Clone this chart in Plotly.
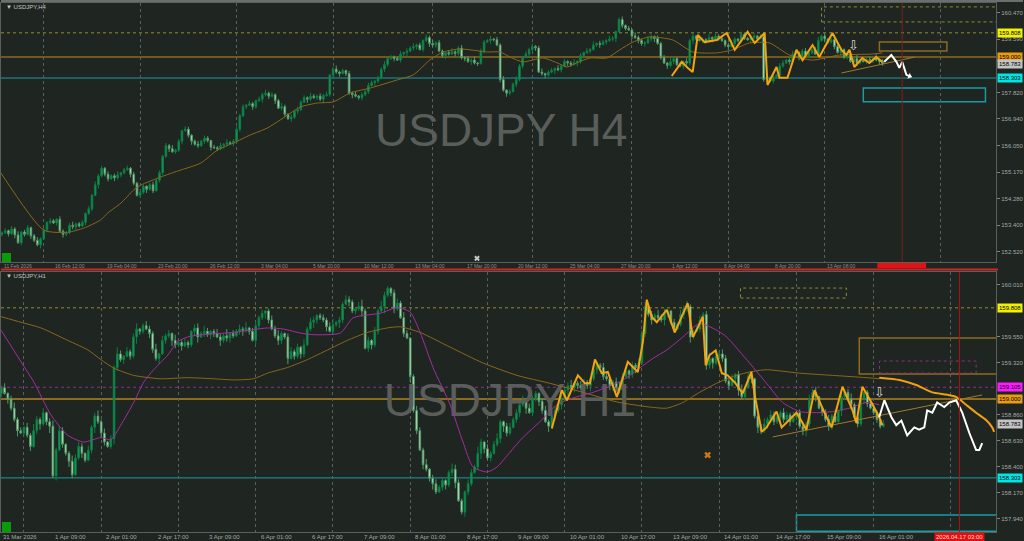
import plotly.graph_objects as go

# ===================== H4 (top) data =====================
h4_first_open = 153.10
h4_close = [
    153.15, 153.22, 153.12, 153.28, 153.08, 152.82, 153.18, 153.10, 153.32,
    153.05, 152.90, 152.75, 152.95, 153.25, 153.50, 153.55, 153.48, 153.60, 153.20,
    153.10, 153.15, 153.40, 153.35, 153.45, 153.38, 153.50, 153.80, 153.95, 154.40,
    154.75, 155.05, 155.30, 155.10, 154.95, 155.05, 154.98, 155.08, 155.15, 155.25,
    155.30, 155.10, 154.80, 154.40, 154.50, 154.70, 154.60, 154.75, 154.55, 154.90,
    155.15, 155.70, 156.05, 155.95, 155.85, 155.90, 156.20, 156.55, 156.60, 156.40,
    156.20, 156.10, 156.05, 156.20, 156.30, 156.22, 156.00, 155.98, 155.95, 156.05,
    156.10, 156.15, 156.12, 156.20, 156.60, 157.05, 157.35, 157.40, 157.45, 157.35,
    157.55, 157.60, 157.75, 157.80, 157.70, 157.75, 157.55, 157.30, 157.35, 157.10,
    156.95, 157.00, 157.20, 157.25, 157.50, 157.65, 157.60, 157.70, 157.65, 157.70,
    157.60, 157.72, 157.75, 158.40, 158.60, 158.50, 158.45, 158.55, 158.45, 157.80,
    157.75, 157.70, 157.65, 157.75, 157.85, 158.05, 158.15, 158.20, 158.30, 158.60,
    158.75, 158.95, 159.00, 158.95, 158.90, 159.10, 159.15, 159.20, 159.30, 159.35,
    159.40, 159.25, 159.55, 159.65, 159.45, 159.40, 159.48, 159.20, 159.05, 159.15,
    159.10, 159.18, 159.12, 159.30, 158.98, 158.95, 158.85, 158.90, 158.80, 158.78,
    159.20, 159.50, 159.55, 159.60, 159.58, 159.40, 158.25, 157.90, 157.80, 157.85,
    158.10, 158.25, 158.70, 159.00, 159.10, 159.25, 159.35, 159.30, 158.50, 158.45,
    158.40, 158.50, 158.55, 158.62, 158.58, 158.70, 158.85, 158.80, 158.75, 158.82,
    158.85, 159.05, 159.15, 159.20, 159.25, 159.40, 159.45, 159.42, 159.50, 159.55,
    159.60, 159.62, 159.85, 160.25, 160.05, 159.95, 159.90, 159.70, 159.65, 159.55,
    159.45, 159.48, 159.60, 159.68, 159.62, 159.45, 158.98, 158.80, 158.72, 158.85,
    158.95, 158.75, 158.70, 158.85, 158.80, 159.55, 159.70, 159.60, 159.55, 159.58,
    159.52, 159.65, 159.60, 159.70, 159.62, 159.55, 159.40, 159.35, 159.45, 159.60,
    159.55, 159.75, 159.62, 159.58, 159.65, 159.70, 159.62, 159.68, 158.25, 158.30,
    158.20, 158.35, 158.40, 158.70, 158.80, 158.90, 158.85, 159.10, 159.15, 158.98,
    159.20, 159.05, 159.15, 159.25, 159.10, 159.55, 159.70, 159.60, 159.50, 159.58,
    159.35, 159.15, 159.25, 159.00, 159.10, 158.85, 158.95, 158.80, 158.90, 158.85,
    158.92, 158.88, 158.98, 158.90, 158.85, 158.78,
]
# wick lengths in 0.01 yen
h4_up = [
    5, 8, 4, 10, 6, 12, 3, 7, 9, 4, 6, 11, 5, 8, 3, 9, 6, 4, 10, 7, 5, 8, 12, 4, 6,
    7, 3, 9, 5, 11, 6, 8, 4, 10, 5, 7, 12, 3, 6, 9, 4, 8, 5, 11, 6, 3, 7, 10, 5, 8,
    4, 9, 6, 12, 5, 7, 3, 10, 8, 4, 6, 11, 5, 9, 7, 3, 8, 6, 10, 4, 12, 5, 7, 9, 6,
    8, 4, 10, 6, 3, 9, 7, 11, 5, 8, 4, 6, 12, 7, 3, 9, 5, 10, 6, 8, 4, 11, 7, 5, 9,
    6, 10, 4, 8, 12, 5, 7, 3, 9, 6, 11, 4, 8, 5, 10, 7, 3, 9, 6, 12, 4, 8, 5, 7, 10,
    3, 9, 6, 11, 5, 8, 4, 10, 7, 12, 5, 9, 6, 3, 8, 11, 4, 7, 10, 5, 9, 6, 12, 4, 8,
    7, 5, 10, 4, 9, 6, 12, 3, 8, 5, 11, 7, 4, 9, 6, 10, 5, 8, 12, 3, 7, 9, 4, 11, 6,
    9, 4, 7, 11, 5, 8, 3, 10, 6, 12, 4, 9, 7, 5, 11, 8, 3, 6, 10, 4, 9, 5, 12, 7, 6,
    5, 11, 8, 4, 10, 6, 9, 3, 12, 7, 5, 8, 4, 11, 6, 10, 3, 9, 7, 5, 12, 4, 8, 6, 10,
    4, 8, 12, 6, 3, 10, 7, 5, 9, 11, 4, 8, 6, 12, 5, 7, 3, 10, 9, 4, 6, 11, 8, 5, 7,
    10, 6, 4, 9, 12, 5, 8, 3, 7, 11, 6, 9, 4, 10, 5, 8, 12, 3, 7, 6, 9, 5, 11, 4, 8,
]
h4_dn = [
    6, 4, 9, 5, 11, 3, 8, 7, 4, 10, 6, 5, 12, 4, 8, 7, 3, 9, 5, 11, 6, 4, 8, 10, 5,
    4, 10, 6, 8, 3, 12, 5, 7, 9, 4, 11, 6, 8, 5, 3, 10, 7, 4, 9, 6, 12, 5, 8, 3, 7,
    9, 5, 11, 4, 7, 6, 10, 3, 8, 12, 5, 7, 4, 9, 6, 11, 3, 8, 5, 10, 7, 4, 9, 6, 8,
    5, 8, 3, 10, 7, 4, 12, 6, 9, 5, 11, 3, 7, 8, 4, 10, 6, 9, 5, 3, 12, 7, 4, 8, 6,
    11, 4, 7, 9, 5, 10, 3, 8, 6, 12, 4, 7, 9, 5, 8, 3, 11, 6, 4, 10, 7, 5, 9, 3, 8,
    6, 12, 4, 8, 10, 3, 7, 5, 11, 6, 9, 4, 8, 12, 5, 3, 10, 7, 6, 9, 4, 11, 5, 8, 3,
    8, 3, 11, 6, 4, 9, 5, 12, 7, 3, 10, 6, 8, 4, 11, 5, 9, 3, 7, 10, 6, 4, 12, 5, 9,
    4, 9, 6, 3, 12, 7, 10, 5, 8, 4, 6, 11, 3, 9, 5, 7, 12, 4, 8, 6, 3, 10, 5, 9, 7,
    10, 5, 8, 12, 4, 6, 3, 11, 7, 9, 5, 4, 10, 6, 8, 12, 5, 3, 9, 7, 4, 11, 6, 8, 5,
    7, 11, 3, 9, 6, 8, 5, 4, 12, 6, 10, 3, 7, 9, 4, 8, 5, 11, 6, 3, 10, 7, 4, 9, 12,
    5, 8, 6, 3, 10, 4, 11, 7, 5, 9, 3, 12, 6, 8, 4, 7, 10, 5, 3, 9, 6, 8, 4, 11, 7,
]
h4_ma_x = [-0.3, 13, 20.5, 25.5, 30.7, 32.9, 37, 41, 43.2, 49.4, 55.6, 61.8, 67.1, 72,
           77.3, 82.6, 86.6, 92.9, 98.1, 103.1, 108.4, 114.6, 123, 128, 133.2, 137.3,
           142.5, 151, 155, 158.1, 162.1, 168.3, 172.7, 175.8, 178.9, 182.9, 188.2,
           192.2, 196.3, 201.6, 208.7, 214.9, 222.4, 227.3, 232.6, 238.8, 245, 252.2,
           260.6, 270.8, 273.9]
h4_ma_y = [155.14, 153.24, 153.17, 153.31, 153.58, 153.81, 154.14, 154.58, 154.74,
           155.01, 155.24, 155.47, 155.91, 156.14, 156.41, 156.64, 156.91, 157.34,
           157.47, 157.51, 157.81, 157.97, 158.24, 158.41, 158.91, 159.17, 159.27,
           159.17, 159.17, 159.00, 158.84, 158.97, 158.81, 158.67, 158.81, 158.97,
           158.97, 159.24, 159.50, 159.67, 159.57, 159.17, 159.14, 159.24, 159.47,
           159.47, 159.07, 158.90, 159.07, 159.10, 159.14]
h4_zz_x = [208.4, 211.5, 213.4, 214.9, 216.5, 218.6, 222.4, 225.5, 228, 232, 234.2,
           237.3, 238.2, 241, 241.9, 244.4, 247.2, 249.1, 252.2, 254.3, 258.4, 261.2,
           262.7, 263.7, 265.2, 267.7, 269.9, 272, 273.9]
h4_zz_y = [158.37, 158.84, 158.64, 158.50, 159.74, 159.50, 159.57, 159.80, 159.24,
           159.84, 159.47, 159.80, 158.07, 158.67, 158.31, 158.31, 159.24, 158.90,
           159.40, 159.00, 159.80, 159.24, 159.07, 159.24, 158.67, 158.97, 158.80,
           159.00, 158.84]
h4_proj_x = [274.5, 276.7, 278.3, 279.2, 280.1, 281.4, 283.0]
h4_proj_y = [158.84, 159.07, 158.84, 158.64, 158.84, 158.41, 158.34]
h4_trend_x = [261.2, 284.0]
h4_trend_y = [158.47, 159.00]
h4_grid = [13, 43, 73, 103, 134, 165, 196, 226, 256, 292]
h4_ytick_vals = [152.52, 153.40, 154.28, 155.17, 156.05, 156.94, 157.82, 159.59, 160.47]
h4_ytick_text = ["152.520", "153.400", "154.280", "155.170", "156.050", "156.940",
                 "157.820", "159.590", "160.470"]
h4_xlab_idx = [0, 16, 32, 48, 64, 80, 96, 112, 128, 144, 160, 176, 192, 208, 224, 240, 256]
h4_xlab_text = ["11 Feb 2026", "16 Feb 12:00", "19 Feb 04:00", "23 Feb 20:00",
                "26 Feb 12:00", "3 Mar 04:00", "5 Mar 20:00", "10 Mar 12:00",
                "13 Mar 04:00", "17 Mar 20:00", "20 Mar 12:00", "25 Mar 04:00",
                "27 Mar 20:00", "1 Apr 12:00", "6 Apr 04:00", "8 Apr 20:00", "13 Apr 08:00"]
h4_vline = 280.1
# zones: (x0, x1, y0, y1)
h4_zone_yellow = (255, 309.5, 160.17, 160.67)
h4_zone_orange = (273, 294, 159.20, 159.50)
h4_zone_cyan = (268, 306, 157.51, 157.97)

# ===================== H1 (bottom) data =====================
h1_first_open = 159.05
h1_close = [
    159.10, 159.05, 159.00, 158.92, 158.82, 158.72, 158.70, 158.75, 158.68, 158.58,
    158.72, 158.82, 158.78, 158.88, 158.80, 158.76, 158.32, 158.55, 158.72, 158.60,
    158.52, 158.45, 158.33, 158.48, 158.58, 158.52, 158.46, 158.55, 158.75, 158.85,
    158.80, 158.70, 158.62, 158.58, 158.65, 159.28, 159.40, 159.35, 159.38, 159.42,
    159.38, 159.55, 159.62, 159.60, 159.65, 159.62, 159.58, 159.44, 159.36, 159.40,
    159.52, 159.56, 159.58, 159.52, 159.48, 159.50, 159.47, 159.50, 159.48, 159.60,
    159.63, 159.55, 159.58, 159.60, 159.57, 159.60, 159.58, 159.55, 159.52, 159.56,
    159.54, 159.58, 159.56, 159.60, 159.62, 159.61, 159.63, 159.60, 159.52, 159.65,
    159.72, 159.76, 159.78, 159.70, 159.62, 159.56, 159.52, 159.58, 159.55, 159.36,
    159.42, 159.38, 159.46, 159.40, 159.48, 159.62, 159.68, 159.70, 159.74, 159.72,
    159.70, 159.64, 159.60, 159.66, 159.68, 159.70, 159.84, 159.88, 159.86, 159.78,
    159.80, 159.82, 159.78, 159.45, 159.52, 159.48, 159.60, 159.78, 159.82, 159.92,
    159.98, 159.94, 159.80, 159.85, 159.72, 159.58, 159.54, 159.20, 158.90, 158.72,
    158.55, 158.42, 158.38, 158.30, 158.25, 158.18, 158.22, 158.28, 158.24, 158.35,
    158.38, 158.26, 158.10, 158.00, 158.18, 158.25, 158.35, 158.40, 158.52, 158.62,
    158.56, 158.48, 158.52, 158.60, 158.65, 158.80, 158.76, 158.70, 158.75, 158.82,
    158.88, 158.95, 158.98, 158.92, 158.88, 159.00, 159.05, 158.98, 158.90, 158.80,
    158.76, 158.85, 158.90, 158.95, 159.00, 159.08, 159.12, 159.10, 159.14, 159.12,
    159.10, 159.15, 159.12, 159.18, 159.26, 159.30, 159.28, 159.20, 159.18, 159.12,
    159.15, 159.10, 159.08, 159.20, 159.25, 159.22, 159.30, 159.28, 159.32, 159.58,
    159.82, 159.75, 159.70, 159.74, 159.72, 159.70, 159.76, 159.78, 159.68, 159.62,
    159.66, 159.75, 159.80, 159.82, 159.55, 159.60, 159.62, 159.70, 159.75, 159.30,
    159.36, 159.32, 159.38, 159.40, 159.36, 159.16, 159.12, 159.18, 159.22, 159.08,
    159.02, 159.10, 159.20, 159.18, 158.85, 158.75, 158.72, 158.78, 158.82, 158.86,
    158.80, 158.84, 158.88, 158.82, 158.86, 158.80, 158.84, 158.88, 158.76, 158.72,
    158.78, 159.00, 159.06, 159.02, 158.92, 158.88, 158.82, 158.76, 158.85, 158.80,
    158.90, 159.02, 159.06, 159.00, 158.95, 158.84, 158.78, 159.00, 159.06, 158.96,
    158.92, 158.88, 158.82, 158.76, 158.783,
]
h1_up = [
    2, 4, 1, 3, 5, 2, 3, 1, 4, 2, 6, 3, 2, 4, 1, 3, 5, 2, 4, 3, 1, 2, 5, 3, 4,
    3, 1, 4, 2, 3, 5, 2, 4, 1, 3, 2, 6, 3, 1, 4, 2, 3, 5, 1, 2, 4, 3, 2, 5, 1,
    4, 2, 3, 1, 5, 3, 2, 4, 2, 1, 3, 4, 2, 5, 3, 1, 2, 4, 3, 2, 6, 1, 3, 2, 4,
    2, 5, 1, 3, 4, 2, 3, 1, 2, 4, 3, 5, 2, 1, 3, 4, 2, 3, 1, 5, 2, 4, 3, 1, 2,
    3, 2, 4, 5, 1, 3, 2, 4, 3, 2, 1, 4, 6, 2, 3, 1, 4, 2, 5, 3, 2, 1, 3, 4, 2,
    5, 3, 1, 2, 4, 3, 2, 5, 1, 3, 4, 2, 3, 1, 2, 5, 4, 3, 2, 1, 4, 3, 2, 6, 3,
    1, 4, 2, 3, 5, 2, 1, 3, 4, 2, 3, 1, 5, 2, 4, 3, 2, 1, 3, 4, 2, 5, 3, 1, 4,
    2, 3, 5, 1, 2, 4, 3, 2, 1, 5, 3, 2, 4, 3, 1, 2, 4, 5, 3, 2, 1, 3, 2, 4, 3,
    4, 1, 3, 2, 5, 3, 4, 2, 1, 3, 2, 4, 3, 5, 2, 1, 3, 4, 2, 3, 5, 1, 2, 3, 4,
    3, 2, 4, 1, 3, 5, 2, 3, 4, 1, 2, 3, 5, 2, 4, 3, 1, 2, 4, 3, 2, 5, 1, 3, 2,
    2, 4, 3, 5, 1, 2, 3, 4, 2, 3, 1, 4, 2, 3, 5, 2, 4, 1, 3, 2, 4, 3, 2, 1, 3,
]
h1_dn = [
    3, 1, 4, 2, 2, 5, 1, 3, 2, 4, 1, 3, 5, 2, 3, 6, 2, 4, 1, 3, 2, 5, 3, 1, 2,
    4, 2, 1, 3, 5, 2, 4, 3, 1, 2, 5, 3, 2, 4, 1, 3, 2, 6, 3, 2, 1, 4, 3, 2, 5,
    1, 3, 2, 5, 3, 2, 4, 1, 3, 2, 4, 5, 1, 3, 2, 4, 3, 1, 5, 2, 3, 4, 2, 1, 3,
    5, 2, 3, 1, 4, 3, 2, 5, 3, 1, 2, 4, 3, 2, 5, 1, 3, 2, 4, 3, 1, 2, 5, 3, 2,
    2, 4, 1, 3, 2, 5, 3, 1, 4, 2, 3, 2, 5, 1, 3, 4, 2, 3, 1, 6, 2, 3, 4, 2, 1,
    3, 1, 5, 2, 3, 1, 4, 2, 3, 5, 2, 1, 3, 4, 2, 3, 5, 1, 2, 4, 3, 2, 1, 3, 5,
    4, 2, 3, 1, 2, 4, 5, 3, 2, 1, 3, 4, 2, 5, 1, 3, 2, 4, 3, 1, 5, 2, 3, 2, 4,
    1, 5, 2, 4, 3, 2, 1, 3, 5, 2, 4, 1, 3, 2, 4, 5, 2, 3, 1, 2, 4, 3, 5, 2, 1,
    3, 2, 4, 1, 3, 2, 5, 4, 2, 3, 1, 2, 4, 3, 5, 2, 1, 3, 2, 4, 3, 5, 2, 1, 3,
    2, 4, 1, 3, 5, 2, 3, 1, 4, 2, 5, 3, 2, 4, 1, 3, 2, 5, 3, 2, 4, 1, 3, 2, 4,
    5, 3, 2, 4, 1, 3, 2, 4, 3, 1, 2, 5, 3, 2, 4, 1, 3, 2, 4, 3, 1, 2, 3, 2, 1,
]
h1_fast_x = [-0.1, 6.1, 10.1, 15.4, 20.6, 25.6, 30.9, 34, 37.1, 41.1, 44.2, 47.3, 51.7,
             54.8, 57.9, 61.9, 72.1, 82.7, 87.6, 92.9, 96.9, 105.3, 109.3, 117.7, 123,
             127, 130.1, 134.1, 139.4, 143.4, 146.5, 150.9, 154, 158, 162, 167.3, 172.6,
             177.5, 183.8, 189.9, 194.3, 198.3, 202.4, 206.7, 211.7, 216.9, 222.2, 225.3,
             232.4, 237.7, 242.7, 248, 253.2, 258.2, 263.4, 268.7, 272.7]
h1_fast_y = [159.61, 159.33, 159.15, 158.86, 158.68, 158.62, 158.66, 158.64, 158.77,
             158.97, 159.15, 159.26, 159.39, 159.51, 159.55, 159.57, 159.59, 159.63,
             159.62, 159.585, 159.57, 159.585, 159.72, 159.76, 159.81, 159.77, 159.59,
             159.28, 158.95, 158.62, 158.40, 158.355, 158.40, 158.53, 158.66, 158.80,
             158.95, 159.01, 159.06, 159.125, 159.19, 159.275, 159.36, 159.435, 159.55,
             159.67, 159.61, 159.55, 159.32, 159.14, 158.97, 158.89, 158.88, 158.89,
             158.92, 158.97, 158.95]
h1_slow_x = [-0.1, 6.1, 12.3, 20.6, 26.9, 30.9, 34.9, 41.1, 49.5, 57.9, 65.9, 72.1, 78.3,
             82.7, 88.9, 95.1, 101.3, 107.5, 113.7, 119.9, 123.9, 130.1, 139.4, 149.6,
             160.2, 170.4, 180.7, 191.2, 201.4, 206.7, 211.7, 216.9, 222.2, 227.2, 232.4,
             237.7, 247.9, 258.2, 268.7, 272.7]
h1_slow_y = [159.73, 159.68, 159.63, 159.52, 159.435, 159.35, 159.275, 159.21, 159.18,
             159.19, 159.18, 159.17, 159.18, 159.23, 159.28, 159.35, 159.435, 159.52,
             159.59, 159.63, 159.64, 159.59, 159.46, 159.32, 159.21, 159.14, 159.06,
             158.975, 158.93, 158.92, 158.97, 159.06, 159.14, 159.20, 159.24, 159.26,
             159.23, 159.21, 159.19, 159.18]
h1_slowproj_x = [272.7, 279, 284.2, 289.2, 293.5, 296.6, 299.7, 302.8, 305.9, 307.8, 308.4]
h1_slowproj_y = [159.19, 159.17, 159.125, 159.06, 159.04, 159.02, 158.95, 158.88,
                 158.815, 158.75, 158.71]
h1_zz_x = [171, 174.1, 175.7, 179.1, 181.3, 182.8, 184.4, 186.5, 188.4, 191.2, 194.6,
           197.7, 199.3, 200.5, 202, 203.6, 206.7, 209.2, 213.2, 214.8, 216.3, 217.9,
           218.8, 220, 221.9, 223.8, 225.6, 227.8, 230.3, 233, 234, 236.2, 237.7, 240.8,
           242.4, 247, 250.1, 252.6, 255.7, 257.9, 261.3, 264.4, 265.6, 267.5, 270.3,
           272.7, 273.7]
h1_zz_y = [158.74, 159.08, 158.99, 159.21, 159.14, 159.14, 159.35, 159.23, 159.24,
           159.02, 159.33, 159.24, 159.51, 159.88, 159.73, 159.68, 159.79, 159.59,
           159.85, 159.55, 159.63, 159.73, 159.30, 159.39, 159.43, 159.23, 159.21,
           159.15, 159.05, 159.24, 159.04, 158.71, 158.75, 158.89, 158.75, 158.88,
           158.73, 159.08, 158.88, 158.75, 159.11, 158.90, 158.79, 159.11, 158.97,
           158.84, 158.77]
h1_proj_x = [272.7, 274.3, 276.5, 278, 279.6, 281.4, 283.6, 285.1, 286.7, 287.6, 289.2,
             290.7, 292.9, 294.5, 296.6, 298.5, 300.7, 302.8, 303.8, 304.7]
h1_proj_y = [158.84, 158.99, 158.84, 158.77, 158.81, 158.68, 158.75, 158.73, 158.75,
             158.90, 158.88, 158.97, 158.93, 158.97, 158.99, 158.88, 158.70, 158.55,
             158.55, 158.61]
h1_trend_x = [239.6, 304.7]
h1_trend_y = [158.665, 159.037]
h1_grid = [7, 31, 55, 79, 103, 127, 151, 175, 199, 223, 247, 271, 295]
h1_ytick_vals = [157.94, 158.17, 158.40, 158.63, 158.86, 159.32, 159.55, 160.01]
h1_ytick_text = ["157.940", "158.170", "158.400", "158.630", "158.860", "159.320",
                 "159.550", "160.010"]
h1_xlab_idx = [0, 16, 32, 48, 64, 80, 96, 112, 128, 144, 160, 176, 192, 208, 224, 240,
               256, 272]
h1_xlab_text = ["31 Mar 2026", "1 Apr 09:00", "2 Apr 01:00", "2 Apr 17:00",
                "3 Apr 09:00", "6 Apr 01:00", "6 Apr 17:00", "7 Apr 09:00",
                "8 Apr 01:00", "8 Apr 17:00", "9 Apr 09:00", "10 Apr 01:00",
                "10 Apr 17:00", "13 Apr 09:00", "14 Apr 01:00", "14 Apr 17:00",
                "15 Apr 09:00", "16 Apr 01:00"]
h1_vline = 297.6
h1_vline_text = "2026.04.17 03:00"
h1_zone_yellow = (229.6, 262.5, 159.895, 159.983)
h1_zone_brown = (266.5, 309.5, 159.222, 159.541)
h1_zone_magenta = (272.8, 302.8, 159.231, 159.337)
h1_zone_cyan = (247, 310, 157.83, 157.975)

# price levels
lvl_yellow = 159.808
lvl_orange = 159.000
lvl_magenta = 159.105
lvl_cyan = 158.303
lvl_bid = 158.783

# ===================== styling =====================
BG = "#1f2521"
FONT = "Liberation Sans"
C_YEL = "#8f8f2c"
C_ORG = "#8d6b1f"
C_CYAN = "#1b9ca2"
C_MAG = "#8e2c8e"
C_MA = "#8a681c"
C_ZZ = "#f5a40c"
C_GRID = "#5a615c"
C_TXT = "#a3a7a4"


def build_ohlc(first_open, closes, up, dn):
    opens = [first_open] + closes[:-1]
    highs = [max(o, c) + u / 100 for o, c, u in zip(opens, closes, up)]
    lows = [min(o, c) - d / 100 for o, c, d in zip(opens, closes, dn)]
    return opens, highs, lows


h4_open, h4_high, h4_low = build_ohlc(h4_first_open, h4_close, h4_up, h4_dn)
h1_open, h1_high, h1_low = build_ohlc(h1_first_open, h1_close, h1_up, h1_dn)
h4_idx = list(range(len(h4_close)))
h1_idx = list(range(len(h1_close)))

fig = go.Figure()

# watermarks (drawn first so they sit behind)
fig.add_trace(go.Scatter(x=[155.3], y=[156.41], mode="text", text=["USDJPY H4"],
                         textfont=dict(size=46, color="#5a5e5b", family=FONT),
                         xaxis="x", yaxis="y", hoverinfo="skip", showlegend=False))
fig.add_trace(go.Scatter(x=[158.0], y=[158.95], mode="text", text=["USDJPY H1"],
                         textfont=dict(size=46, color="#5a5e5b", family=FONT),
                         xaxis="x2", yaxis="y2", hoverinfo="skip", showlegend=False))

candle_style = dict(
    increasing=dict(line=dict(color="#0d7d45", width=1), fillcolor="#10a25c"),
    decreasing=dict(line=dict(color="#4f9a68", width=1), fillcolor="#e2f2da"),
    whiskerwidth=0, showlegend=False, hoverinfo="skip",
)

# ---- top H4 ----
fig.add_trace(go.Scatter(x=h4_ma_x, y=h4_ma_y, mode="lines",
                         line=dict(color=C_MA, width=1, shape="spline", smoothing=0.6),
                         xaxis="x", yaxis="y", showlegend=False, hoverinfo="skip"))
fig.add_trace(go.Candlestick(x=h4_idx, open=h4_open, high=h4_high, low=h4_low,
                             close=h4_close, xaxis="x", yaxis="y", **candle_style))
fig.add_trace(go.Scatter(x=h4_trend_x, y=h4_trend_y, mode="lines",
                         line=dict(color="#a07a2a", width=1),
                         xaxis="x", yaxis="y", showlegend=False, hoverinfo="skip"))
fig.add_trace(go.Scatter(x=h4_zz_x, y=h4_zz_y, mode="lines",
                         line=dict(color=C_ZZ, width=2),
                         xaxis="x", yaxis="y", showlegend=False, hoverinfo="skip"))
fig.add_trace(go.Scatter(x=h4_proj_x, y=h4_proj_y, mode="lines",
                         line=dict(color="#ffffff", width=2),
                         xaxis="x", yaxis="y", showlegend=False, hoverinfo="skip"))

# ---- bottom H1 ----
fig.add_trace(go.Scatter(x=h1_slow_x, y=h1_slow_y, mode="lines",
                         line=dict(color=C_MA, width=1, shape="spline", smoothing=0.6),
                         xaxis="x2", yaxis="y2", showlegend=False, hoverinfo="skip"))
fig.add_trace(go.Scatter(x=h1_fast_x, y=h1_fast_y, mode="lines",
                         line=dict(color="#a22ea2", width=1, shape="spline", smoothing=0.6),
                         xaxis="x2", yaxis="y2", showlegend=False, hoverinfo="skip"))
fig.add_trace(go.Candlestick(x=h1_idx, open=h1_open, high=h1_high, low=h1_low,
                             close=h1_close, xaxis="x2", yaxis="y2", **candle_style))
fig.add_trace(go.Scatter(x=h1_trend_x, y=h1_trend_y, mode="lines",
                         line=dict(color="#a07a2a", width=1),
                         xaxis="x2", yaxis="y2", showlegend=False, hoverinfo="skip"))
fig.add_trace(go.Scatter(x=h1_slowproj_x, y=h1_slowproj_y, mode="lines",
                         line=dict(color="#f0a012", width=2, shape="spline", smoothing=0.5),
                         xaxis="x2", yaxis="y2", showlegend=False, hoverinfo="skip"))
fig.add_trace(go.Scatter(x=h1_zz_x, y=h1_zz_y, mode="lines",
                         line=dict(color=C_ZZ, width=2),
                         xaxis="x2", yaxis="y2", showlegend=False, hoverinfo="skip"))
fig.add_trace(go.Scatter(x=h1_proj_x, y=h1_proj_y, mode="lines",
                         line=dict(color="#ffffff", width=2),
                         xaxis="x2", yaxis="y2", showlegend=False, hoverinfo="skip"))
# small markers
fig.add_trace(go.Scatter(x=[219.4], y=[158.505], mode="markers",
                         marker=dict(symbol="x", size=6, color="#c8781e"),
                         xaxis="x2", yaxis="y2", showlegend=False, hoverinfo="skip"))
fig.add_trace(go.Scatter(x=[147.8], y=[152.30], mode="markers",
                         marker=dict(symbol="x", size=5, color="#c8c8c8"),
                         xaxis="x", yaxis="y", showlegend=False, hoverinfo="skip"))

shapes = []
annotations = []


def hline(y, color, width, dash, yref, xref):
    shapes.append(dict(type="line", xref=xref + " domain", yref=yref, x0=0, x1=1,
                       y0=y, y1=y, line=dict(color=color, width=width, dash=dash),
                       layer="below"))


def zone(z, color, width, dash, xref, yref):
    shapes.append(dict(type="rect", xref=xref, yref=yref, x0=z[0], x1=z[1], y0=z[2],
                       y1=z[3], line=dict(color=color, width=width, dash=dash),
                       fillcolor="rgba(0,0,0,0)", layer="below"))


# top levels / zones
hline(lvl_yellow, C_YEL, 1, "dot", "y", "x")
hline(lvl_orange, C_ORG, 1.5, "solid", "y", "x")
hline(lvl_cyan, C_CYAN, 1, "solid", "y", "x")
zone(h4_zone_yellow, C_YEL, 1, "dot", "x", "y")
zone(h4_zone_orange, C_ORG, 1.5, "solid", "x", "y")
zone(h4_zone_cyan, C_CYAN, 1.5, "solid", "x", "y")
shapes.append(dict(type="line", xref="x", yref="y domain", x0=h4_vline, x1=h4_vline,
                   y0=0, y1=1, line=dict(color="#7e1e1e", width=1)))

# bottom levels / zones
hline(lvl_yellow, C_YEL, 1, "dot", "y2", "x2")
hline(lvl_magenta, C_MAG, 1, "dot", "y2", "x2")
hline(lvl_orange, C_ORG, 2, "solid", "y2", "x2")
hline(lvl_cyan, C_CYAN, 1, "solid", "y2", "x2")
zone(h1_zone_yellow, C_YEL, 1, "dot", "x2", "y2")
zone(h1_zone_brown, C_ORG, 1.5, "solid", "x2", "y2")
zone(h1_zone_magenta, C_MAG, 1, "dot", "x2", "y2")
zone(h1_zone_cyan, C_CYAN, 1.5, "solid", "x2", "y2")
shapes.append(dict(type="line", xref="x2", yref="y2 domain", x0=h1_vline, x1=h1_vline,
                   y0=0, y1=1, line=dict(color="#a81818", width=1)))

# frame decorations
shapes.append(dict(type="rect", xref="paper", yref="paper", x0=0, x1=1,
                   y0=1 - 2 / 541, y1=1, line=dict(width=0), fillcolor="#6b706c"))
shapes.append(dict(type="line", xref="paper", yref="paper", x0=0, x1=999 / 1024,
                   y0=1 - 269.5 / 541, y1=1 - 269.5 / 541,
                   line=dict(color="#d42626", width=2)))
shapes.append(dict(type="rect", xref="paper", yref="paper", x0=878 / 1024, x1=927 / 1024,
                   y0=1 - 268 / 541, y1=1 - 263 / 541, line=dict(width=0),
                   fillcolor="#e01414"))
shapes.append(dict(type="rect", xref="paper", yref="paper", x0=1 / 1024, x1=10 / 1024,
                   y0=1 - 262 / 541, y1=1 - 253 / 541, line=dict(width=0),
                   fillcolor="#0c9a0c"))
shapes.append(dict(type="rect", xref="paper", yref="paper", x0=1 / 1024, x1=10 / 1024,
                   y0=1 - 532 / 541, y1=1 - 522 / 541, line=dict(width=0),
                   fillcolor="#0c9a0c"))

# arrows & icons
annotations.append(dict(x=h4_proj_x[-1], y=h4_proj_y[-1], ax=h4_proj_x[-2], ay=h4_proj_y[-2],
                        xref="x", yref="y", axref="x", ayref="y", showarrow=True,
                        arrowhead=1, arrowsize=0.7, arrowwidth=1.5, arrowcolor="#ffffff",
                        text=""))
annotations.append(dict(x=265, y=159.40, xref="x", yref="y", text="⇩", showarrow=False,
                        font=dict(size=13, color="#d8d8d8", family="DejaVu Sans")))
annotations.append(dict(x=272.8, y=159.06, xref="x2", yref="y2", text="⇩", showarrow=False,
                        font=dict(size=13, color="#d8d8d8", family="DejaVu Sans")))

# chart titles
annotations.append(dict(x=3 / 1024, y=1 - 7 / 541, xref="paper", yref="paper",
                        text="▼ USDJPY,H4", showarrow=False, xanchor="left",
                        yanchor="middle", font=dict(size=6, color="#c4c8c5", family=FONT)))
annotations.append(dict(x=3 / 1024, y=1 - 276 / 541, xref="paper", yref="paper",
                        text="▼ USDJPY,H1", showarrow=False, xanchor="left",
                        yanchor="middle", font=dict(size=6, color="#c4c8c5", family=FONT)))

# x labels (MT4 style, left aligned at tick)
for i, t in zip(h4_xlab_idx, h4_xlab_text):
    annotations.append(dict(x=i, y=1 - 265.5 / 541, xref="x", yref="paper", text=t,
                            showarrow=False, xanchor="left", yanchor="middle",
                            font=dict(size=5, color="#8a8e8b", family=FONT)))
for i, t in zip(h1_xlab_idx, h1_xlab_text):
    annotations.append(dict(x=i, y=1 - 537 / 541, xref="x2", yref="paper", text=t,
                            showarrow=False, xanchor="left", yanchor="middle",
                            font=dict(size=6, color=C_TXT, family=FONT)))
annotations.append(dict(x=h1_vline, y=1 - 537 / 541, xref="x2", yref="paper",
                        text=h1_vline_text, showarrow=False, xanchor="center",
                        yanchor="middle", bgcolor="#e01010", borderpad=1,
                        font=dict(size=6, color="#ffd8d8", family=FONT)))


# right-side price labels
def price_label(y, yref, bg, fg="#000000"):
    annotations.append(dict(x=998 / 1024, y=y, xref="paper", yref=yref,
                            text=f"{y:.3f}", showarrow=False, xanchor="left",
                            yanchor="middle", bgcolor=bg, borderpad=1,
                            font=dict(size=6, color=fg, family=FONT)))


price_label(lvl_yellow, "y", "#f2f200")
price_label(lvl_orange, "y", "#eb9b12")
price_label(lvl_bid, "y", "#c4c4c4")
price_label(lvl_cyan, "y", "#00e6e6")
price_label(lvl_yellow, "y2", "#f2f200")
price_label(lvl_magenta, "y2", "#ff1aff")
price_label(lvl_orange, "y2", "#eb9b12")
price_label(lvl_bid, "y2", "#c4c4c4")
price_label(lvl_cyan, "y2", "#00e6e6")

xdom = [0, 997 / 1024]
common_x = dict(domain=xdom, showgrid=True, gridcolor=C_GRID, griddash="dot",
                gridwidth=1, showticklabels=False, ticks="", showline=True, mirror=True,
                linecolor="#59605b", zeroline=False, rangeslider=dict(visible=False),
                fixedrange=True)
common_y = dict(side="right", showgrid=False, ticks="outside", ticklen=3,
                tickcolor="#7f837f", tickfont=dict(size=6, color=C_TXT, family=FONT),
                showline=True, mirror=True, linecolor="#59605b", zeroline=False,
                fixedrange=True)

fig.update_layout(
    width=1024, height=541,
    margin=dict(l=0, r=0, t=0, b=0),
    paper_bgcolor=BG, plot_bgcolor=BG,
    showlegend=False,
    xaxis=dict(range=[-0.31, 309.3], tickvals=h4_grid, anchor="y", **common_x),
    yaxis=dict(domain=[1 - 262 / 541, 1 - 3 / 541], range=[152.18, 160.80],
               tickvals=h4_ytick_vals, ticktext=h4_ytick_text, anchor="x", **common_y),
    xaxis2=dict(range=[-0.12, 309.0], tickvals=h1_grid, anchor="y2", **common_x),
    yaxis2=dict(domain=[1 - 532 / 541, 1 - 272 / 541], range=[157.824, 160.125],
                tickvals=h1_ytick_vals, ticktext=h1_ytick_text, anchor="x2", **common_y),
    shapes=shapes,
    annotations=annotations,
)

fig.write_html(
    "out.html",
    config={"displayModeBar": False},
    post_script="document.body.style.margin='0px';document.body.style.padding='0px';"
                "document.body.style.background='" + BG + "';"
                "document.body.style.overflow='hidden';",
)
